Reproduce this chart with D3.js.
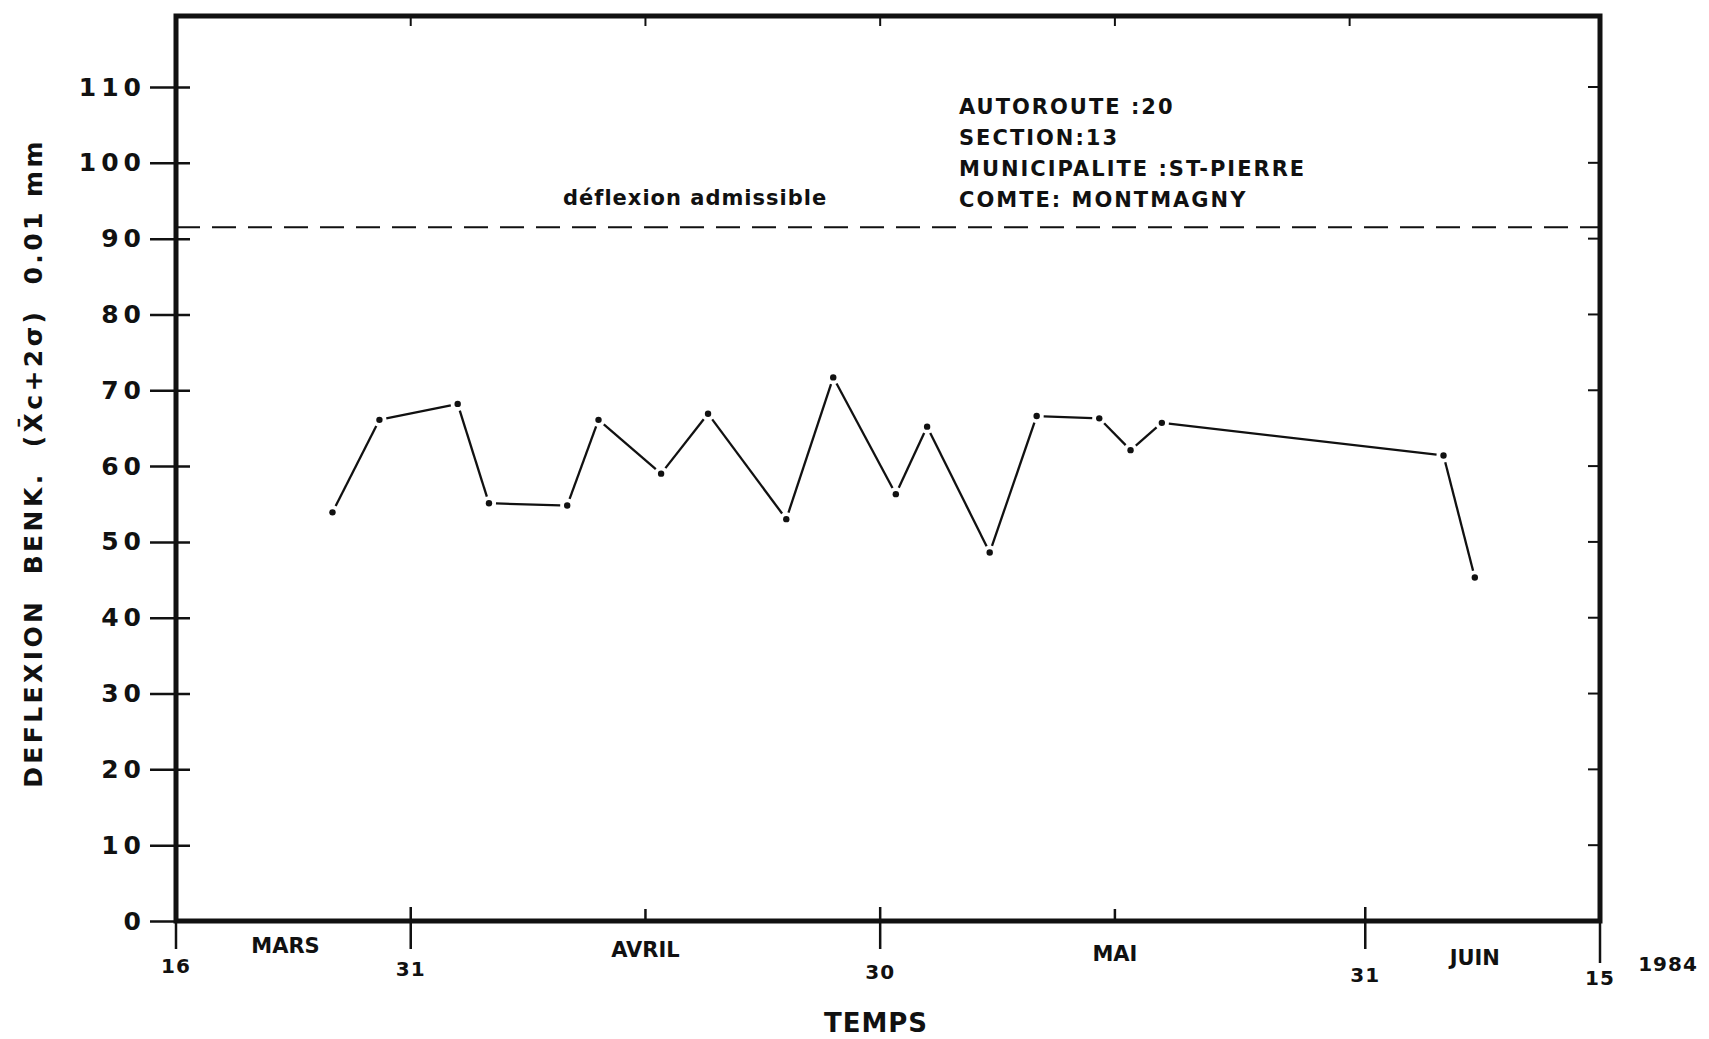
<!DOCTYPE html>
<html>
<head>
<meta charset="utf-8">
<script src="https://cdn.jsdelivr.net/npm/d3@7"></script>
<style>
  body { margin: 0; background: #fff; }
  text { font-family: 'DejaVu Sans', 'Liberation Sans', sans-serif; font-weight: bold; fill: #111; }
</style>
</head>
<body>
<div id="d3container"></div>
<script>
var parseDate = d3.timeParse('%Y-%m-%d');

// measurement dates and deflection values (0.01 mm)
var days = ['1984-03-26', '1984-03-29', '1984-04-03', '1984-04-05', '1984-04-10', '1984-04-12',
    '1984-04-16', '1984-04-19', '1984-04-24', '1984-04-27', '1984-05-01', '1984-05-03',
    '1984-05-07', '1984-05-10', '1984-05-14', '1984-05-16', '1984-05-18', '1984-06-05', '1984-06-07'];
var deflexion = [53.9, 66.1, 68.2, 55.1, 54.8, 66.1, 59.0, 66.9, 53.0, 71.7, 56.3,
    65.2, 48.6, 66.6, 66.3, 62.1, 65.7, 61.4, 45.3];
var admissible = 91.5;

var yTicks = [0, 10, 20, 30, 40, 50, 60, 70, 80, 90, 100, 110];
var dayTicks = ['1984-03-16', '1984-03-31', '1984-04-30', '1984-05-31', '1984-06-15'];
var dayLabels = ['16', '31', '30', '31', '15'];
var minorTicks = ['1984-04-15', '1984-05-15'];
var topTicks = ['1984-03-31', '1984-04-15', '1984-04-30', '1984-05-15', '1984-05-30'];
var months = ['MARS', 'AVRIL', 'MAI', 'JUIN'];
var monthPos = ['1984-03-23', '1984-04-15', '1984-05-15', '1984-06-07'];
var infoLines = ['AUTOROUTE :20', 'SECTION:13', 'MUNICIPALITE :ST-PIERRE', 'COMTE: MONTMAGNY'];

var data = days.map(function (d, i) {
    return {day: parseDate(d), value: deflexion[i]};
});

var margin = {left: 176, right: 1600, top: 16, bottom: 921};

var x = d3.scaleTime()
    .domain([parseDate('1984-03-16'), parseDate('1984-06-15')])
    .range([margin.left, margin.right]);
var y = d3.scaleLinear()
    .domain([0, 110])
    .range([margin.bottom, 87]);

var svg = d3.select('#d3container')
    .append('svg')
    .attr('width', 1709)
    .attr('height', 1039);

// left axis with crossing ticks
var yAxis = d3.axisLeft(y).tickValues(yTicks).tickSizeInner(26).tickSizeOuter(0)
    .tickFormat(function (d) { return d; });
var gy = svg.append('g').attr('transform', 'translate(' + margin.left + ',0)').call(yAxis);
gy.select('.domain').remove();
gy.selectAll('.tick line').attr('x2', -26).attr('x1', 14).attr('stroke', '#111').attr('stroke-width', 2.5);
gy.selectAll('.tick text')
    .attr('x', -30)
    .style('font-size', '25px')
    .style('letter-spacing', '5px')
    .style('font-family', "'DejaVu Sans', sans-serif")
    .style('font-weight', 'bold')
    .attr('fill', '#111');

// right inner ticks
svg.append('g').selectAll('line')
    .data(yTicks.slice(1))
    .enter().append('line')
    .attr('x1', margin.right - 12).attr('x2', margin.right)
    .attr('y1', function (d) { return y(d); })
    .attr('y2', function (d) { return y(d); })
    .attr('stroke', '#111').attr('stroke-width', 2);

// top inner ticks
svg.append('g').selectAll('line')
    .data(topTicks)
    .enter().append('line')
    .attr('x1', function (d) { return x(parseDate(d)); })
    .attr('x2', function (d) { return x(parseDate(d)); })
    .attr('y1', margin.top).attr('y2', margin.top + 10)
    .attr('stroke', '#111').attr('stroke-width', 2);

// bottom major ticks and day labels
var gx = svg.append('g');
gx.selectAll('line.major')
    .data(dayTicks)
    .enter().append('line')
    .attr('class', 'major')
    .attr('x1', function (d) { return x(parseDate(d)); })
    .attr('x2', function (d) { return x(parseDate(d)); })
    .attr('y1', function (d, i) { return (i === 0 || i === 4) ? margin.bottom : margin.bottom - 14; })
    .attr('y2', function (d, i) { return i === 4 ? margin.bottom + 42 : margin.bottom + 28; })
    .attr('stroke', '#111').attr('stroke-width', 2.5);
gx.selectAll('line.minor')
    .data(minorTicks)
    .enter().append('line')
    .attr('class', 'minor')
    .attr('x1', function (d) { return x(parseDate(d)); })
    .attr('x2', function (d) { return x(parseDate(d)); })
    .attr('y1', margin.bottom - 12).attr('y2', margin.bottom)
    .attr('stroke', '#111').attr('stroke-width', 2.5);
gx.selectAll('text.day')
    .data(dayTicks)
    .enter().append('text')
    .attr('class', 'day')
    .attr('x', function (d) { return x(parseDate(d)); })
    .attr('y', function (d, i) { return 973 + i * 3; })
    .attr('text-anchor', 'middle')
    .style('font-size', '20px')
    .style('letter-spacing', '1px')
    .text(function (d, i) { return dayLabels[i]; });
gx.selectAll('text.month')
    .data(months)
    .enter().append('text')
    .attr('class', 'month')
    .attr('x', function (d, i) { return x(parseDate(monthPos[i])); })
    .attr('y', function (d, i) { return 953 + i * 4; })
    .attr('text-anchor', 'middle')
    .style('font-size', '21px')
    .text(function (d) { return d; });

svg.append('text').attr('x', 1668).attr('y', 971).attr('text-anchor', 'middle')
    .style('font-size', '20px').style('letter-spacing', '1px').text('1984');
svg.append('text').attr('x', 876).attr('y', 1032).attr('text-anchor', 'middle')
    .style('font-size', '26px').style('letter-spacing', '1px').text('TEMPS');

// y title
svg.append('text')
    .attr('transform', 'translate(42,' + 463 + ') rotate(-90)')
    .attr('text-anchor', 'middle')
    .style('font-size', '25px')
    .style('letter-spacing', '3.4px')
    .style('white-space', 'pre')
    .text('DEFLEXION  BENK.  (X\u0304c+2\u03c3)  0.01 mm');

// frame
svg.append('rect')
    .attr('x', margin.left).attr('y', margin.top)
    .attr('width', margin.right - margin.left).attr('height', margin.bottom - margin.top)
    .attr('fill', 'none').attr('stroke', '#111').attr('stroke-width', 5);

// admissible deflection line
svg.append('line')
    .attr('x1', margin.left).attr('x2', margin.right)
    .attr('y1', y(admissible)).attr('y2', y(admissible))
    .attr('stroke', '#111').attr('stroke-width', 2)
    .attr('stroke-dasharray', '24,12');
svg.append('text').attr('x', 563).attr('y', 205)
    .style('font-size', '21px').style('letter-spacing', '1px').text('d\u00e9flexion admissible');

svg.append('g').selectAll('text')
    .data(infoLines)
    .enter().append('text')
    .attr('x', 959)
    .attr('y', function (d, i) { return 114 + i * 31; })
    .style('font-size', '21px')
    .style('letter-spacing', '2px')
    .text(function (d) { return d; });

// data: segments stop short of the dots, like the pen plot
var segs = d3.pairs(data);
svg.append('g').selectAll('line')
    .data(segs)
    .enter().append('line')
    .each(function (p) {
        var x1 = x(p[0].day), y1 = y(p[0].value), x2 = x(p[1].day), y2 = y(p[1].value);
        var len = Math.sqrt((x2 - x1) * (x2 - x1) + (y2 - y1) * (y2 - y1));
        var gap = 7 / len;
        d3.select(this)
            .attr('x1', x1 + (x2 - x1) * gap).attr('y1', y1 + (y2 - y1) * gap)
            .attr('x2', x2 - (x2 - x1) * gap).attr('y2', y2 - (y2 - y1) * gap);
    })
    .attr('stroke', '#111').attr('stroke-width', 2.3);

svg.append('g').selectAll('circle')
    .data(data)
    .enter().append('circle')
    .attr('cx', function (d) { return x(d.day); })
    .attr('cy', function (d) { return y(d.value); })
    .attr('r', 3.2)
    .attr('fill', '#111');
</script>
</body>
</html>
